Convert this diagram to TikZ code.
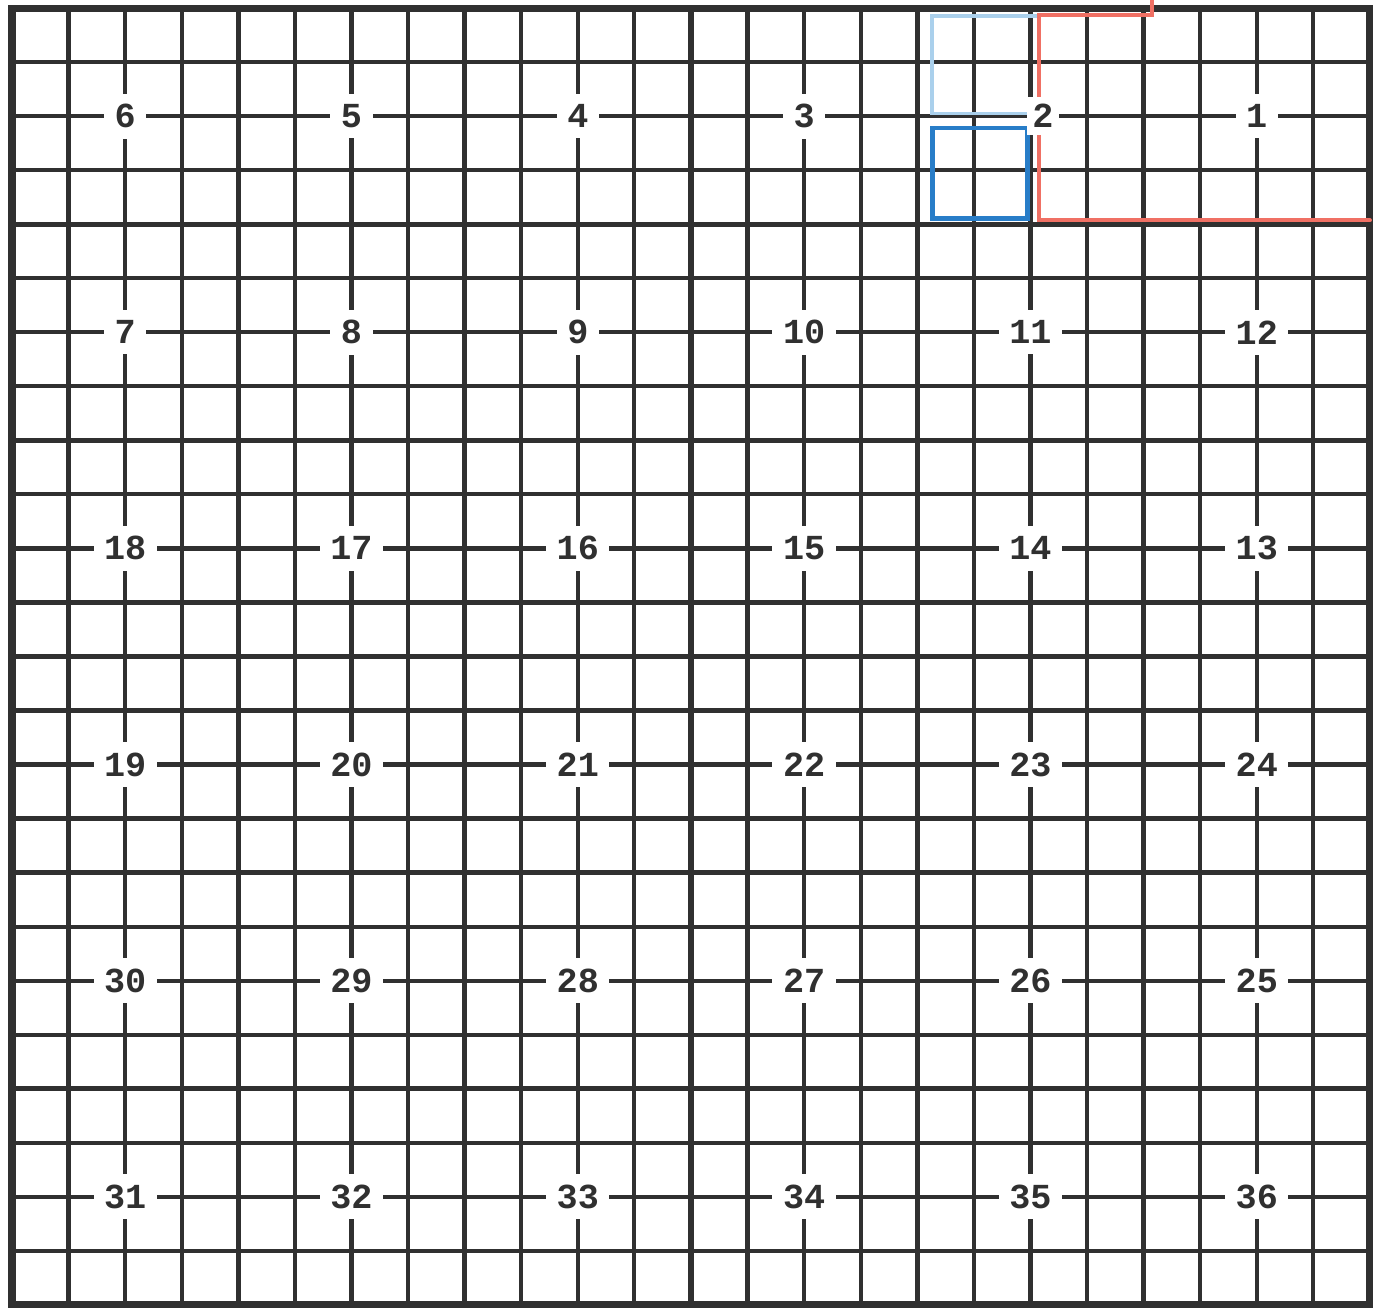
\documentclass[tikz,border=0pt]{standalone}
\usepackage{fontspec}
\setmonofont{Liberation Mono}
\usepackage{tikz}
\usepackage{xcolor}
\definecolor{inkgray}{RGB}{48,48,48}
\definecolor{claimred}{RGB}{240,112,100}
\definecolor{quarterblue}{RGB}{40,125,200}
\definecolor{paleblue}{RGB}{170,208,236}

\begin{document}
\begin{tikzpicture}[x=1.1317cm,y=1.0808cm,line cap=round,
  sec/.style={fill=white,inner xsep=6pt,inner ysep=6pt,text=inkgray,
    font=\ttfamily\bfseries\fontsize{20}{20}\selectfont}]
\useasboundingbox (-0.212,-0.130) rectangle (24.196,24.149);
% quarter-quarter lines, section lines, township border
\draw[inkgray,line width=2.4pt] (0,0) grid[step=1] (24,24);
\draw[inkgray,line width=2.9pt] (0,0) grid[step=4] (24,24);
\draw[inkgray,line width=4pt,line cap=rect] (0,0) rectangle (24,24);
% marked tracts
\draw[paleblue,line width=2pt] (18.05,22.05) -- (16.26,22.05) -- (16.26,23.85) -- (18.15,23.85);
\draw[claimred,line width=2.3pt] (20.15,24.149) -- (20.15,23.87) -- (18.15,23.87) -- (18.15,20.07) -- (24,20.07);
\draw[quarterblue,line width=2.8pt] (16.27,20.1) rectangle (17.95,21.78);
% section numbers
\node[sec] (s6) at (2,22) {6};
\node[sec] (s5) at (6,22) {5};
\node[sec] (s4) at (10,22) {4};
\node[sec] (s3) at (14,22) {3};
\node[sec,inner xsep=3pt,inner ysep=4pt] (s2) at (18.22,22) {2};
\node[sec] (s1) at (22,22) {1};
\node[sec] (s7) at (2,18) {7};
\node[sec] (s8) at (6,18) {8};
\node[sec] (s9) at (10,18) {9};
\node[sec] (s10) at (14,18) {10};
\node[sec] (s11) at (18,18) {11};
\node[sec] (s12) at (22,18) {12};
\node[sec] (s18) at (2,14) {18};
\node[sec] (s17) at (6,14) {17};
\node[sec] (s16) at (10,14) {16};
\node[sec] (s15) at (14,14) {15};
\node[sec] (s14) at (18,14) {14};
\node[sec] (s13) at (22,14) {13};
\node[sec] (s19) at (2,10) {19};
\node[sec] (s20) at (6,10) {20};
\node[sec] (s21) at (10,10) {21};
\node[sec] (s22) at (14,10) {22};
\node[sec] (s23) at (18,10) {23};
\node[sec] (s24) at (22,10) {24};
\node[sec] (s30) at (2,6) {30};
\node[sec] (s29) at (6,6) {29};
\node[sec] (s28) at (10,6) {28};
\node[sec] (s27) at (14,6) {27};
\node[sec] (s26) at (18,6) {26};
\node[sec] (s25) at (22,6) {25};
\node[sec] (s31) at (2,2) {31};
\node[sec] (s32) at (6,2) {32};
\node[sec] (s33) at (10,2) {33};
\node[sec] (s34) at (14,2) {34};
\node[sec] (s35) at (18,2) {35};
\node[sec] (s36) at (22,2) {36};
\end{tikzpicture}
\end{document}
